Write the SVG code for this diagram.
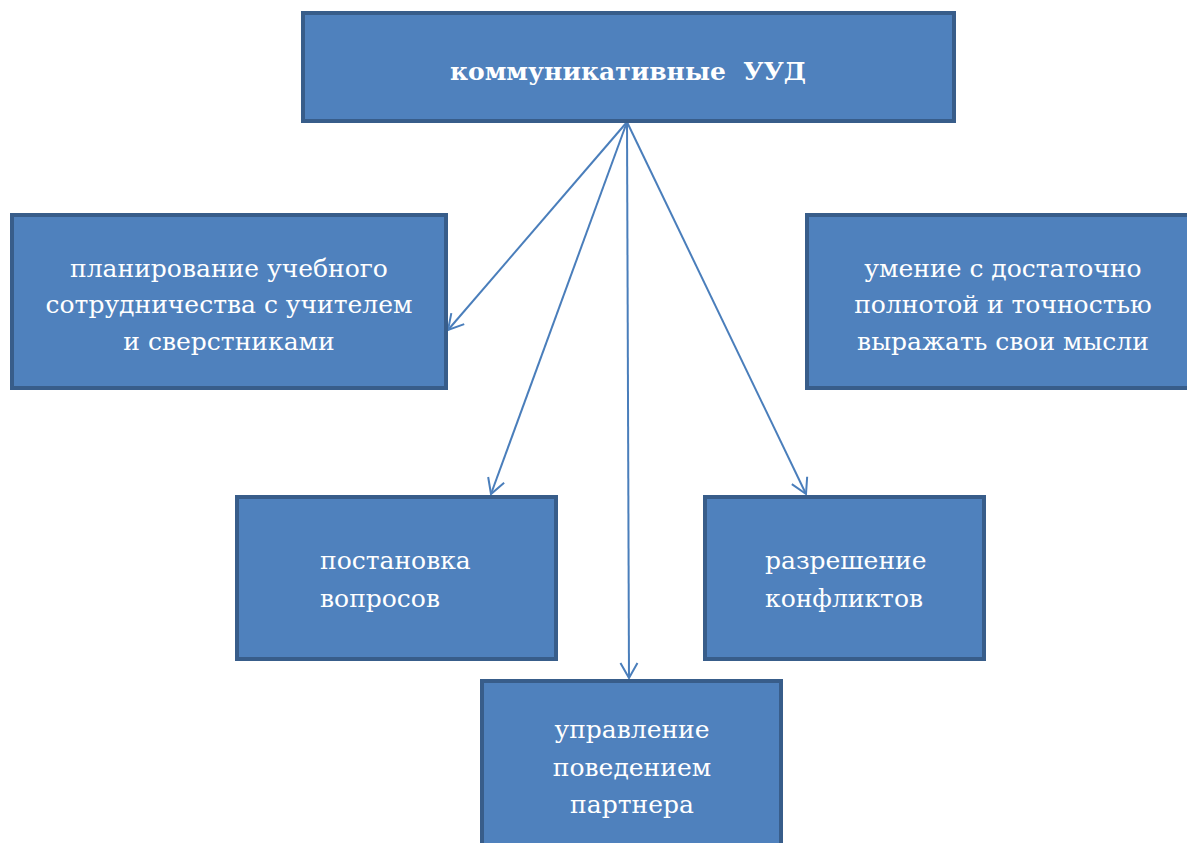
<svg xmlns="http://www.w3.org/2000/svg" width="1187" height="843" viewBox="0 0 1187 843">
<style>
.box{fill:#4F81BD;stroke:#385D8A;stroke-width:4}
text{font-family:'DejaVu Serif',serif;font-size:25px;fill:#FFFFFF}
.c{text-anchor:middle}
.conn{stroke:#4A7EBB;stroke-width:2;fill:none;marker-end:url(#ah)}
</style>
<defs>
<marker id="ah" markerUnits="userSpaceOnUse" viewBox="0 0 20 20" refX="18" refY="10" markerWidth="20" markerHeight="20" orient="auto">
<path d="M3 1.5 L18 10 L3 18.5" fill="none" stroke="#4A7EBB" stroke-width="2"/>
</marker>
</defs>
<rect width="1187" height="843" fill="#FFFFFF"/>
<g id="connectors">
<line class="conn" x1="627" y1="122" x2="448" y2="330"/>
<line class="conn" x1="627" y1="122" x2="491" y2="494"/>
<line class="conn" x1="627" y1="122" x2="629" y2="678"/>
<line class="conn" x1="627" y1="122" x2="806" y2="494"/>
</g>
<g id="n-top">
<rect class="box" x="303" y="13" width="651" height="108"/>
<text class="c" x="628" y="80" font-weight="bold" font-size="23" xml:space="preserve">коммуникативные  УУД</text>
</g>
<g id="n-plan">
<rect class="box" x="12" y="215" width="434" height="173"/>
<text class="c" x="229" y="277">планирование учебного</text>
<text class="c" x="229" y="313">сотрудничества с учителем</text>
<text class="c" x="229" y="350">и сверстниками</text>
</g>
<g id="n-express">
<rect class="box" x="807" y="215" width="400" height="173"/>
<text class="c" x="1003" y="277">умение с достаточно</text>
<text class="c" x="1003" y="313">полнотой и точностью</text>
<text class="c" x="1003" y="350">выражать свои мысли</text>
</g>
<g id="n-questions">
<rect class="box" x="237" y="497" width="319" height="162"/>
<text x="320" y="569">постановка</text>
<text x="320" y="607">вопросов</text>
</g>
<g id="n-conflicts">
<rect class="box" x="705" y="497" width="279" height="162"/>
<text x="765" y="569">разрешение</text>
<text x="765" y="607">конфликтов</text>
</g>
<g id="n-partner">
<rect class="box" x="482" y="681" width="299" height="180"/>
<text class="c" x="632" y="738">управление</text>
<text class="c" x="632" y="776">поведением</text>
<text class="c" x="632" y="813">партнера</text>
</g>
</svg>
